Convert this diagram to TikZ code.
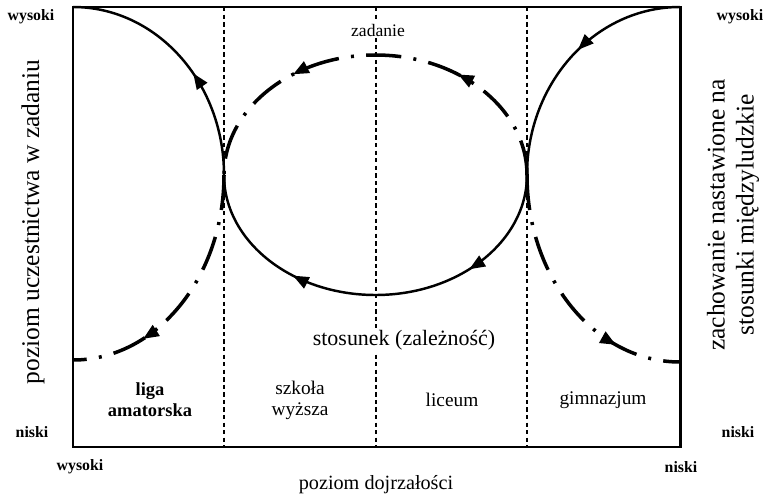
\documentclass[tikz,border=0pt]{standalone}
\usepackage{fontspec}
\setmainfont{Liberation Serif}
\usetikzlibrary{
	arrows.meta,
	positioning,
	decorations.markings
}

\begin{document}
\begin{tikzpicture}[
		x=0.02cm, y=0.02cm,
		>={Triangle[length=9pt,width=7pt]},
		frame/.style={
			line width=1.7pt
		},
		divider/.style={
			line width=0.6pt,
			dash pattern=on 2.5pt off 1.8pt
		},
		solidcurve/.style={
			line width=1.4pt
		},
		dashdot/.style={
			line width=2pt,
			dash pattern=on 20pt off 7pt on 1.7pt off 7pt
		},
		arrowat/.style={
			postaction={decorate, decoration={markings, mark=at position #1 with {\pgfsetdash{}{0pt}\arrow{>}}}}
		},
		level/.style={
			font=\bfseries\fontsize{9}{10}\selectfont
		},
		axis/.style={
			font=\fontsize{14.5}{16.5}\selectfont,
			align=center
		},
		stage/.style={
			font=\fontsize{11}{12}\selectfont,
			align=center
		}
		]
		
		\useasboundingbox (0,0) rectangle (764,498);
		
		% Frame
		\coordinate (bl) at (73,51);
		\coordinate (tl) at (73,491);
		\coordinate (tr) at (680,491);
		\coordinate (br) at (680,51);
		\coordinate (lt) at (224,323);
		\coordinate (rt) at (527,323);
		\foreach \x in {224,376,527}
		\draw[divider] (\x,491) -- (\x,51);
		\draw[frame] (bl) rectangle (tr);
		
		% Left side
		\draw[solidcurve, arrowat=0.43] (lt) arc[start angle=0, end angle=90, x radius=151, y radius=168];
		\draw[dashdot, arrowat=0.72] (lt) arc[start angle=0, end angle=-90, x radius=151, y radius=185];
		
		% Right side
		\draw[solidcurve, arrowat=0.45] (tr) arc[start angle=90, end angle=180, x radius=153, y radius=168];
		\draw[dashdot, arrowat=0.75] (rt) arc[start angle=180, end angle=270, x radius=153, y radius=187];
		
		% Middle loop
		\draw[dashdot, arrowat=0.3, arrowat=0.7] (rt) arc[start angle=0, end angle=180, x radius=151.5, y radius=120];
		\draw[solidcurve, arrowat=0.27, arrowat=0.7] (rt) arc[start angle=0, end angle=-180, x radius=151.5, y radius=120];
		
		% Levels
		\node[level] (highL) at (31,481) {wysoki};
		\node[level] (highR) at (740,481) {wysoki};
		\node[level] (lowL) at (32,66) {niski};
		\node[level] (lowR) at (738,66) {niski};
		\node[level] (highB) at (80,31) {wysoki};
		\node[level] (lowB) at (681,31) {niski};
		
		% Axes
		\node[axis, font=\fontsize{11.5}{13}\selectfont] (maturity) at (376,13) {poziom dojrzałości};
		\node[axis, rotate=90] (task) at (33,276) {poziom uczestnictwa w zadaniu};
		\node[axis, rotate=90] (relation) at (733,283) {zachowanie nastawione na\\stosunki międzyludzkie};
		\node[stage, fill=white, inner sep=1pt, font=\fontsize{10}{12}\selectfont] (taskTop) at (378,468) {zadanie};
		\node[stage, fill=white, inner sep=1pt, font=\fontsize{12.5}{14}\selectfont] (relBottom) at (404,158) {stosunek (zależność)};
		
		% Stages
		\node[stage, font=\bfseries\fontsize{10.5}{12}\selectfont] (amateur) at (150,98) {liga\\amatorska};
		\node[stage] (college) at (300,98) {szkoła\\wyższa};
		\node[stage] (lyceum) at (452,98) {liceum};
		\node[stage] (gymnasium) at (603,98) {gimnazjum};
		
	\end{tikzpicture}
\end{document}
